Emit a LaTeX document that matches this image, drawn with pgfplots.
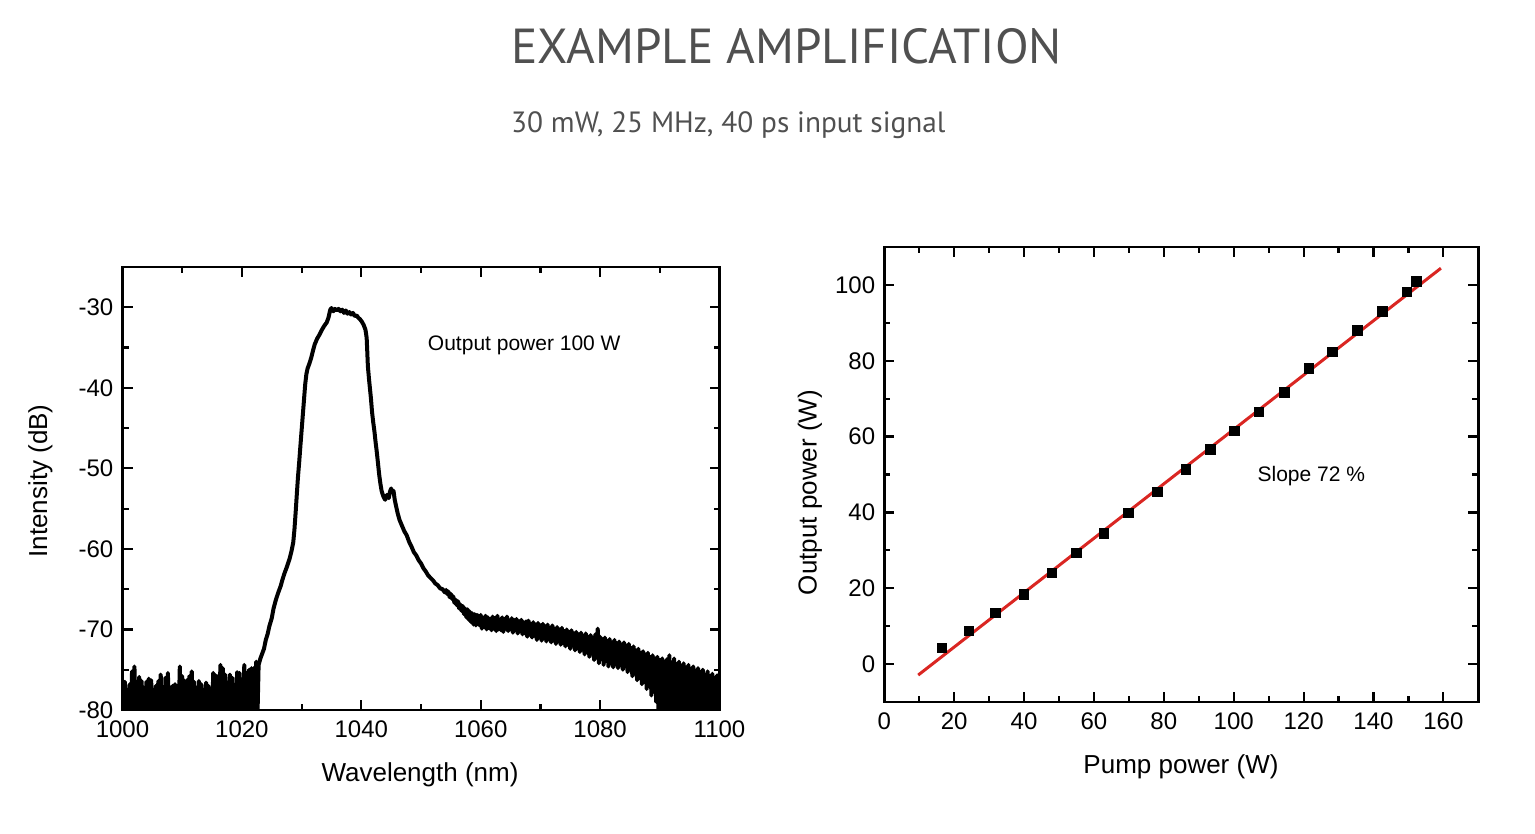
\documentclass[border=0pt]{standalone}
\usepackage{fontspec}
\setmainfont{Liberation Sans}
\newfontfamily\titlefont{PT Sans}
\usepackage{pgfplots}
\pgfplotsset{compat=1.18}
\definecolor{fitred}{RGB}{218,38,34}
\definecolor{titlegray}{RGB}{80,80,80}
\pgfplotsset{
  origin/.style={
    scale only axis,
    axis line style={line width=2.4pt},
    tick style={line width=2.2pt, black},
    tick align=inside,
    xtick pos=both, ytick pos=both,
    major tick length=10pt, minor tick length=6pt,
    scaled ticks=false,
    /pgf/number format/assume math mode=true,
    /pgf/number format/1000 sep={},
    tick label style={font=\fontsize{24}{28}\selectfont, inner sep=0pt},
    xticklabel style={yshift=-11pt},
    yticklabel style={xshift=-9pt},
  }
}

\begin{document}
\begin{tikzpicture}
\useasboundingbox (0,0) rectangle (1535pt,834pt);

% titles
\node[anchor=base west, font=\titlefont\fontsize{49.2}{56}\selectfont, text=titlegray, inner sep=0pt]
  at (511pt,770pt) {EXAMPLE AMPLIFICATION};
\node[anchor=base west, font=\titlefont\fontsize{29.3}{34}\selectfont, text=titlegray, inner sep=0pt]
  at (511pt,701pt) {30 mW, 25 MHz, 40 ps input signal};

% spectrum
\begin{axis}[origin,
  at={(122.5pt,124pt)}, anchor=south west,
  width=597pt, height=443pt,
  xmin=1000, xmax=1100, ymin=-80, ymax=-25,
  xtick={1000,1020,...,1100}, minor x tick num=1,
  ytick={-80,-70,...,-30}, minor y tick num=1,
  ]
  \addplot[black, line width=4pt, line join=round] coordinates {
  (1000.0,-76.3) (1000.2,-81) (1000.4,-76.5) (1000.6,-81) (1000.8,-77.5) (1001.0,-81) (1001.2,-76.8) (1001.4,-81)
  (1001.6,-75.2) (1001.8,-81) (1002.0,-74.6) (1002.2,-81) (1002.4,-77.4) (1002.6,-81) (1002.8,-75.9) (1003.0,-81)
  (1003.2,-76.4) (1003.4,-81) (1003.6,-77.5) (1003.8,-81) (1004.0,-76.5) (1004.2,-81) (1004.4,-76.1) (1004.6,-81)
  (1004.8,-76.3) (1005.0,-81) (1005.2,-77.5) (1005.4,-81) (1005.6,-77.0) (1005.8,-81) (1006.0,-76.4) (1006.2,-81)
  (1006.4,-75.6) (1006.6,-81) (1006.8,-77.2) (1007.0,-81) (1007.2,-76.0) (1007.4,-81) (1007.6,-75.4) (1007.8,-81)
  (1008.0,-77.2) (1008.2,-81) (1008.4,-77.0) (1008.6,-81) (1008.8,-76.8) (1009.0,-81) (1009.2,-77.6) (1009.4,-81)
  (1009.6,-74.6) (1009.8,-81) (1010.0,-75.8) (1010.2,-81) (1010.4,-76.4) (1010.6,-81) (1010.8,-76.3) (1011.0,-81)
  (1011.2,-75.8) (1011.4,-81) (1011.6,-75.2) (1011.8,-81) (1012.0,-76.5) (1012.2,-81) (1012.4,-77.3) (1012.6,-81)
  (1012.8,-76.4) (1013.0,-81) (1013.2,-76.8) (1013.4,-81) (1013.6,-77.5) (1013.8,-81) (1014.0,-76.6) (1014.2,-81)
  (1014.4,-77.0) (1014.6,-81) (1014.8,-77.9) (1015.0,-81) (1015.2,-75.4) (1015.4,-81) (1015.6,-75.7) (1015.8,-81)
  (1016.0,-75.8) (1016.2,-81) (1016.4,-74.4) (1016.6,-81) (1016.8,-74.8) (1017.0,-81) (1017.2,-75.6) (1017.4,-81)
  (1017.6,-76.6) (1017.8,-81) (1018.0,-75.6) (1018.2,-81) (1018.4,-76.0) (1018.6,-81) (1018.8,-76.9) (1019.0,-81)
  (1019.2,-75.3) (1019.4,-81) (1019.6,-75.4) (1019.8,-81) (1020.0,-76.2) (1020.2,-81) (1020.4,-74.4) (1020.6,-81)
  (1020.8,-75.4) (1021.0,-81) (1021.2,-75.0) (1021.4,-81) (1021.6,-74.8) (1021.8,-81) (1022.0,-74.8) (1022.2,-81)
  (1022.4,-74.0) (1022.6,-81)
  (1022.8,-74.4) (1023.1,-73.6) (1023.4,-73.0) (1023.7,-72.4) (1024.0,-71.3) (1024.3,-70.6) (1024.6,-69.6)
  (1025.0,-68.6) (1025.3,-67.4) (1025.7,-66.3) (1026.1,-65.4) (1026.5,-64.6) (1026.8,-63.8) (1027.1,-63.1)
  (1027.5,-62.3) (1028.0,-61.2) (1028.3,-60.3) (1028.6,-59.2) (1028.8,-57.6) (1029.0,-55.5) (1029.2,-53.2)
  (1029.4,-51.0) (1029.6,-49.2) (1029.8,-47.2) (1030.0,-45.3) (1030.2,-43.4) (1030.4,-41.5) (1030.6,-39.6)
  (1030.8,-38.3) (1031.0,-37.6) (1031.3,-37.0) (1031.6,-36.3) (1031.9,-35.4) (1032.2,-34.6) (1032.6,-33.9)
  (1033.0,-33.4) (1033.4,-32.8) (1033.8,-32.3) (1034.2,-31.9) (1034.5,-31.3) (1034.8,-30.3) (1035.0,-30.1)
  (1035.3,-30.5) (1035.6,-30.2) (1035.9,-30.4) (1036.2,-30.2) (1036.5,-30.5) (1036.8,-30.3) (1037.1,-30.7)
  (1037.4,-30.4) (1037.7,-30.8) (1038.0,-30.6) (1038.3,-30.9) (1038.6,-30.7) (1038.9,-31.1) (1039.2,-31.0)
  (1039.5,-31.3) (1039.8,-31.5) (1040.1,-31.8) (1040.4,-32.2) (1040.7,-32.8) (1040.9,-33.8) (1041.0,-35.5)
  (1041.1,-37.3) (1041.3,-39.0) (1041.6,-41.2) (1041.8,-43.0) (1042.0,-44.3) (1042.2,-45.4) (1042.4,-46.8)
  (1042.6,-48.0) (1042.8,-49.4) (1043.0,-50.8) (1043.2,-51.9) (1043.4,-52.8) (1043.7,-53.5) (1044.0,-53.9)
  (1044.3,-53.3) (1044.6,-53.7) (1044.8,-52.9) (1045.0,-52.5) (1045.2,-53.0) (1045.4,-52.8) (1045.6,-53.9)
  (1045.8,-54.6) (1046.1,-55.6) (1046.4,-56.4) (1046.8,-57.1) (1047.2,-57.8) (1047.6,-58.3) (1048.0,-59.1)
  (1048.4,-59.7) (1048.8,-60.4) (1049.2,-60.8) (1049.6,-61.4) (1050.0,-61.8) (1050.4,-62.4) (1050.8,-62.8)
  (1051.2,-63.3) (1051.6,-63.6) (1052.0,-63.9) (1052.4,-64.3) (1052.8,-64.5) (1053.2,-64.9) (1053.6,-65.0)
  (1054.0,-65.4) (1054.2,-65.1) (1054.4,-65.6) (1054.6,-65.3) (1054.8,-66.0) (1055.0,-65.6) (1055.2,-66.2)
  (1055.4,-65.9) (1055.6,-66.7) (1055.8,-66.3) (1056.0,-67.0) (1056.2,-66.5) (1056.4,-67.4) (1056.6,-66.9)
  (1056.8,-67.7) (1057.0,-67.1) (1057.2,-68.1) (1057.4,-67.4) (1057.6,-68.5) (1057.8,-67.5)
  (1058.0,-68.8) (1058.2,-67.8) (1058.4,-69.1) (1058.6,-68.0) (1058.8,-69.4) (1059.0,-68.1) (1059.2,-69.5) (1059.4,-68.2)
  (1059.6,-68.4) (1059.8,-69.5) (1060.0,-68.2) (1060.2,-69.9) (1060.4,-68.6) (1060.6,-69.7) (1060.8,-68.3) (1061.0,-70.0)
  (1061.2,-68.5) (1061.4,-69.8) (1061.6,-68.7) (1061.8,-70.1) (1062.0,-68.4) (1062.2,-69.9) (1062.4,-68.6) (1062.6,-70.2)
  (1062.8,-68.3) (1063.0,-70.0) (1063.2,-68.8) (1063.4,-70.1) (1063.6,-68.5) (1063.8,-70.3) (1064.0,-68.7) (1064.2,-69.9)
  (1064.4,-68.4) (1064.6,-70.2) (1064.8,-68.9) (1065.0,-70.0) (1065.2,-68.6) (1065.4,-70.4) (1065.6,-68.8) (1065.8,-70.1)
  (1066.0,-68.7) (1066.2,-70.5) (1066.4,-69.0) (1066.6,-70.2) (1066.8,-68.8) (1067.0,-70.6) (1067.2,-69.1) (1067.4,-70.5)
  (1067.6,-69.0) (1067.8,-70.9) (1068.0,-68.9) (1068.2,-70.6) (1068.4,-69.3) (1068.6,-71.0) (1068.8,-69.1) (1069.0,-70.8)
  (1069.2,-69.4) (1069.4,-71.3) (1069.6,-69.2) (1069.8,-71.0) (1070.0,-69.5) (1070.2,-71.4) (1070.4,-69.3) (1070.6,-71.1)
  (1070.8,-69.6) (1071.0,-71.5) (1071.2,-69.4) (1071.4,-71.2) (1071.6,-69.8) (1071.8,-71.6) (1072.0,-69.5) (1072.2,-71.4)
  (1072.4,-69.9) (1072.6,-71.8) (1072.8,-69.7) (1073.0,-71.5) (1073.2,-70.0) (1073.4,-71.9) (1073.6,-69.8) (1073.8,-71.7)
  (1074.0,-70.2) (1074.2,-72.1) (1074.4,-70.0) (1074.6,-71.9) (1074.8,-70.3) (1075.0,-72.4) (1075.2,-70.1) (1075.4,-72.0)
  (1075.6,-70.5) (1075.8,-72.6) (1076.0,-70.3) (1076.2,-72.3) (1076.4,-70.6) (1076.6,-72.8) (1076.8,-70.4) (1077.0,-72.5)
  (1077.2,-70.8) (1077.4,-73.1) (1077.6,-70.5) (1077.8,-72.8) (1078.0,-70.9) (1078.2,-73.4) (1078.4,-70.7) (1078.6,-73.0)
  (1078.8,-71.0) (1079.0,-73.8) (1079.2,-70.6) (1079.4,-73.5) (1079.6,-69.9) (1079.8,-74.2) (1080.0,-70.9) (1080.2,-73.7)
  (1080.4,-71.2) (1080.6,-74.4) (1080.8,-71.0) (1081.0,-73.9) (1081.2,-71.4) (1081.4,-74.6) (1081.6,-71.2) (1081.8,-74.2)
  (1082.0,-71.6) (1082.2,-74.7) (1082.4,-71.3) (1082.6,-74.3) (1082.8,-71.7) (1083.0,-74.8) (1083.2,-71.5) (1083.4,-74.4)
  (1083.6,-71.9) (1083.8,-75.0) (1084.0,-71.6) (1084.2,-74.6) (1084.4,-72.0) (1084.6,-75.3) (1084.8,-71.8) (1085.0,-75.0)
  (1085.2,-72.3) (1085.4,-75.8) (1085.6,-72.1) (1085.8,-75.5) (1086.0,-72.6) (1086.2,-76.3) (1086.4,-72.4) (1086.6,-76.0)
  (1086.8,-72.9) (1087.0,-76.8) (1087.2,-72.7) (1087.4,-76.5) (1087.6,-73.1) (1087.8,-77.4) (1088.0,-72.9) (1088.2,-77.0)
  (1088.4,-73.4) (1088.6,-78.2) (1088.8,-73.2) (1089.0,-77.6) (1089.2,-73.6) (1089.4,-79.0) (1089.6,-73.4) (1089.8,-81)
  (1090.0,-73.8) (1090.2,-80.5) (1090.4,-73.6) (1090.6,-81) (1090.8,-74.0) (1091.0,-81) (1091.2,-73.7) (1091.4,-81)
  (1091.6,-73.2) (1091.8,-81) (1092.0,-74.1) (1092.2,-81) (1092.4,-73.6) (1092.6,-81) (1092.8,-74.3) (1093.0,-81)
  (1093.2,-74.0) (1093.4,-81) (1093.6,-74.5) (1093.8,-81) (1094.0,-74.2) (1094.2,-81) (1094.4,-74.7) (1094.6,-81)
  (1094.8,-74.4) (1095.0,-81) (1095.2,-74.9) (1095.4,-81) (1095.6,-74.6) (1095.8,-81) (1096.0,-75.1) (1096.2,-81)
  (1096.4,-74.8) (1096.6,-81) (1096.8,-75.3) (1097.0,-81) (1097.2,-75.0) (1097.4,-81) (1097.6,-75.6) (1097.8,-81)
  (1098.0,-75.2) (1098.2,-81) (1098.4,-75.8) (1098.6,-81) (1098.8,-75.5) (1099.0,-81) (1099.2,-76.0) (1099.4,-81)
  (1099.6,-75.7) (1099.8,-81) (1100.0,-76.2)
  };
  \node[font=\fontsize{21}{25}\selectfont] at (axis cs:1067.3,-34.75) {Output power 100 W};
\end{axis}

% output power vs pump power
\begin{axis}[origin,
  at={(884.3pt,132pt)}, anchor=south west,
  width=594pt, height=455pt,
  xmin=0, xmax=170, ymin=-10, ymax=110,
  xtick={0,20,...,160}, minor x tick num=1,
  ytick={0,20,...,100}, minor y tick num=1,
  ]
  \addplot[fitred, line width=3pt] coordinates {(9.7,-2.9) (159.3,104.4)};
  \addplot[only marks, mark=square*, mark size=4.8pt, black] coordinates {
  (16.4,4.3) (24.1,8.8) (31.8,13.5) (39.9,18.5) (47.9,24.1) (54.9,29.4) (62.8,34.5)
  (69.8,39.9) (78.1,45.5) (86.2,51.4) (93.2,56.6) (100.2,61.5) (107.2,66.6) (114.4,71.7)
  (121.5,78.0) (128.2,82.4) (135.4,88.0) (142.5,93.0) (149.5,98.2) (152.3,100.9)
  };
  \node[font=\fontsize{21}{25}\selectfont] at (axis cs:122.2,49.6) {Slope 72 \%};
\end{axis}

% axis labels
\node[anchor=base, font=\fontsize{26}{30}\selectfont, inner sep=0pt] at (420pt,52.5pt) {Wavelength (nm)};
\node[anchor=base, rotate=90, font=\fontsize{26}{30}\selectfont, inner sep=0pt] at (47pt,353pt) {Intensity (dB)};
\node[anchor=base, font=\fontsize{26}{30}\selectfont, inner sep=0pt] at (1181pt,60pt) {Pump power (W)};
\node[anchor=base, rotate=90, font=\fontsize{26}{30}\selectfont, inner sep=0pt] at (816.5pt,341.5pt) {Output power (W)};
\end{tikzpicture}
\end{document}
